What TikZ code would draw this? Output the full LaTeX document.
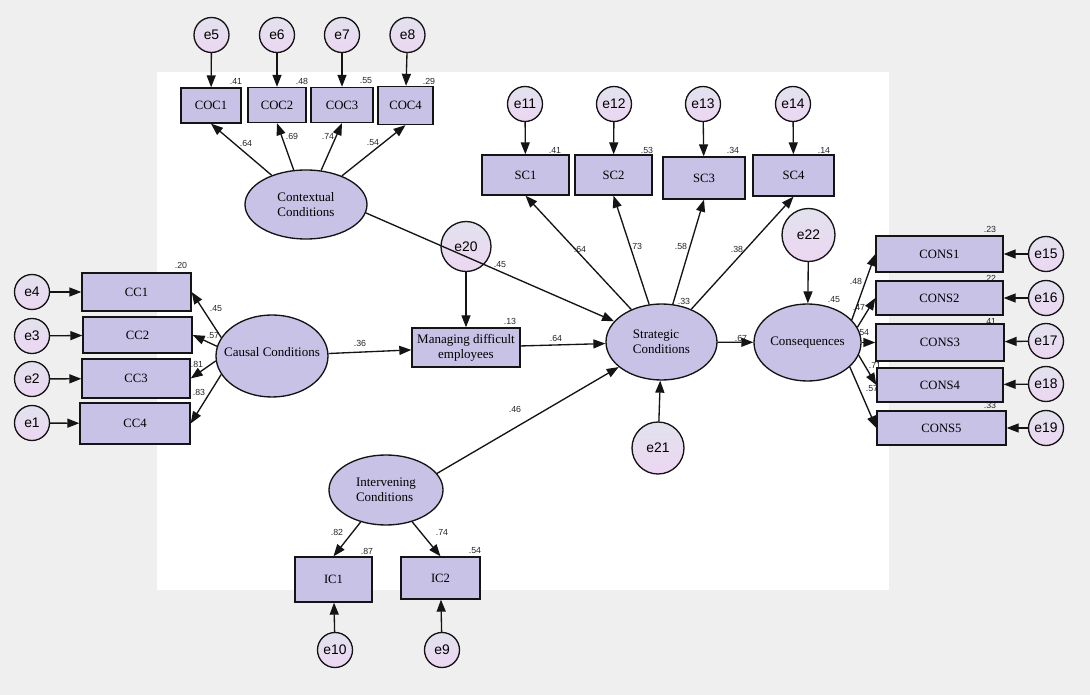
\documentclass[tikz,border=0pt]{standalone}
\usepackage{fontspec}
\setmainfont{Liberation Serif}
\newfontfamily\arialf{Liberation Sans}
\usetikzlibrary{shapes.geometric,arrows.meta}
\definecolor{bgray}{RGB}{239,239,239}
\definecolor{boxfill}{RGB}{199,194,230}
\definecolor{errtop}{RGB}{226,226,238}
\definecolor{errbot}{RGB}{236,214,242}
\definecolor{linec}{RGB}{20,20,20}
\tikzset{
  obs/.style={draw=linec, line width=1pt, fill=boxfill, rectangle, inner sep=0pt,
    align=center, font=\fontsize{9.5}{11.5}\selectfont},
  lat/.style={draw=linec, line width=1pt, fill=boxfill, ellipse, inner sep=0pt},
  lattext/.style={inner sep=0pt, align=left, font=\fontsize{9.75}{11}\selectfont},
  err/.style={draw=linec, line width=1pt, circle, top color=errtop, bottom color=errbot,
    inner sep=0pt, minimum size=26.25pt, font=\arialf\fontsize{10.4}{12}\selectfont},
  bigerr/.style={err, minimum size=38pt},
  arr/.style={draw=linec, line width=1pt, -{Triangle[length=9pt,width=6.75pt]}},
  num/.style={inner sep=0pt, font=\arialf\fontsize{6.6}{7}\selectfont, text=black!85}
}
\begin{document}
\begin{tikzpicture}[x=0.75pt,y=-0.75pt]
\fill[bgray] (0,0) rectangle (1090,695);
\useasboundingbox (0,0) rectangle (1090,695);
\fill[white] (157,72) rectangle (889,590);

% ---- numbers (drawn first so boxes may cover some) ----
\node[num] (r1) at (236,81) {.41};
\node[num] (r2) at (302,81) {.48};
\node[num] (r3) at (366,81) {.55};
\node[num] (r4) at (429,81) {.29};
\node[num] (l1) at (246,143) {.64};
\node[num] (l2) at (292,136) {.69};
\node[num] (l3) at (328,136) {.74};
\node[num] (l4) at (373,143) {.54};
\node[num] (rs1) at (555,150) {.41};
\node[num] (rs2) at (647,150) {.53};
\node[num] (rs3) at (733,150) {.34};
\node[num] (rs4) at (824,150) {.14};
\node[num] (ls1) at (580,249) {.64};
\node[num] (ls2) at (636,246) {.73};
\node[num] (ls3) at (681,246) {.58};
\node[num] (ls4) at (737,249) {.38};
\node[num] (rstrat) at (684,301) {.33};
\node[num] (lctx) at (500,265) {.45};
\node[num] (rman) at (510,321) {.13};
\node[num] (lman) at (556,338) {.64};
\node[num] (lcau) at (360,343) {.36};
\node[num] (lint) at (515,409) {.46};
\node[num] (lcon) at (741,338) {.67};
\node[num] (rcon) at (834,300) {.45};
\node[num] (rc1) at (990,229) {.23};
\node[num] (rc2) at (990,278) {.22};
\node[num] (rc3) at (990,321) {.41};
\node[num] (rc5) at (990,405) {.33};
\node[num] (lc1) at (856,281) {.48};
\node[num] (lc2) at (859,307) {.47};
\node[num] (lc3) at (863,333) {.54};
\node[num] (lc4) at (875,365) {.71};
\node[num] (lc5) at (872,389) {.57};
\node[num] (rcc1) at (181,265) {.20};
\node[num] (lcc1) at (216,309) {.45};
\node[num] (lcc2) at (213,336) {.57};
\node[num] (lcc3) at (197,364) {.81};
\node[num] (lcc4) at (199,392) {.83};
\node[num] (lic1) at (337,532) {.82};
\node[num] (ric1) at (367,551) {.87};
\node[num] (lic2) at (442,532) {.74};
\node[num] (ric2) at (475,551) {.54};

% ---- observed variables ----
\node[obs, minimum width=45pt, minimum height=26.25pt] (coc1) at (211,105.5) {COC1};
\node[obs, minimum width=43.5pt, minimum height=26.25pt] (coc2) at (277,105) {COC2};
\node[obs, minimum width=46.5pt, minimum height=26.25pt] (coc3) at (342,105) {COC3};
\node[obs, minimum width=41.25pt, minimum height=28.5pt] (coc4) at (405.5,105.5) {COC4};

\node[obs, minimum width=65.25pt, minimum height=30pt] (sc1) at (525.5,175) {SC1};
\node[obs, minimum width=57.75pt, minimum height=30pt] (sc2) at (613.5,175) {SC2};
\node[obs, minimum width=61.5pt, minimum height=31.5pt] (sc3) at (704,178) {SC3};
\node[obs, minimum width=60.75pt, minimum height=30.75pt] (sc4) at (793.5,175.5) {SC4};

\node[obs, minimum width=95.25pt, minimum height=27pt] (cons1) at (939.5,254) {CONS1};
\node[obs, minimum width=95.25pt, minimum height=25.5pt] (cons2) at (939.5,298) {CONS2};
\node[obs, minimum width=96pt, minimum height=27.75pt] (cons3) at (940,342.5) {CONS3};
\node[obs, minimum width=94.5pt, minimum height=25.5pt] (cons4) at (940,385) {CONS4};
\node[obs, minimum width=96.75pt, minimum height=25.5pt] (cons5) at (941.5,428) {CONS5};

\node[obs, minimum width=81.75pt, minimum height=28.5pt] (cc1) at (136.5,292) {CC1};
\node[obs, minimum width=81.75pt, minimum height=27pt] (cc2) at (137.5,335) {CC2};
\node[obs, minimum width=81pt, minimum height=29.25pt] (cc3) at (136,378.5) {CC3};
\node[obs, minimum width=82.5pt, minimum height=30.75pt] (cc4) at (135,423.5) {CC4};

\node[obs, minimum width=57.75pt, minimum height=33.75pt] (ic1) at (333.5,579.5) {IC1};
\node[obs, minimum width=59.25pt, minimum height=31.5pt] (ic2) at (440.5,578) {IC2};

\node[obs, minimum width=81pt, minimum height=29.25pt, font=\fontsize{9.75}{11.5}\selectfont] (man) at (466,347.5) {Managing difficult\\employees};

% ---- latent variables ----
\node[lat, minimum width=91.5pt, minimum height=51.75pt] (ctx) at (306,204.5) {};
\node[lattext] (ctxt) at (ctx) {Contextual\\Conditions};
\node[lat, minimum width=84pt, minimum height=61.5pt] (cau) at (272,356) {};
\node[lattext] (caut) at (272,352) {Causal Conditions};
\node[lat, minimum width=83.25pt, minimum height=57pt] (str) at (661.5,342) {};
\node[lattext] (strt) at (str) {Strategic\\Conditions};
\node[lat, minimum width=80.25pt, minimum height=57.75pt] (con) at (807.5,342.5) {};
\node[lattext] (cont) at (con) {Consequences};
\node[lat, minimum width=85.5pt, minimum height=52.5pt] (int) at (386,490) {};
\node[lattext] (intt) at (int) {Intervening\\Conditions};

% ---- error terms ----
\node[err] (e5) at (211.5,35) {e5};
\node[err] (e6) at (277,35) {e6};
\node[err] (e7) at (342,35) {e7};
\node[err] (e8) at (407.5,35) {e8};
\node[err] (e11) at (525,104) {e11};
\node[err] (e12) at (614,104) {e12};
\node[err] (e13) at (703,104) {e13};
\node[err] (e14) at (793,104) {e14};
\node[err] (e15) at (1046,254) {e15};
\node[err] (e16) at (1046,298) {e16};
\node[err] (e17) at (1046,341) {e17};
\node[err] (e18) at (1046,384) {e18};
\node[err] (e19) at (1046,428) {e19};
\node[err] (e4) at (32,292) {e4};
\node[err] (e3) at (32,336) {e3};
\node[err] (e2) at (32,379) {e2};
\node[err] (e1) at (32,423) {e1};
\node[err] (e10) at (335,650) {e10};
\node[err] (e9) at (442,650) {e9};
\node[bigerr, minimum size=37.5pt] (e20) at (466,246.5) {e20};
\node[bigerr, minimum size=39pt] (e21) at (658,448) {e21};
\node[bigerr, minimum size=39.75pt] (e22) at (808.5,235) {e22};

% ---- error arrows ----
\draw[arr] (e5) -- (coc1);
\draw[arr] (e6) -- (coc2);
\draw[arr] (e7) -- (coc3);
\draw[arr] (e8) -- (coc4);
\draw[arr] (e11) -- (sc1);
\draw[arr] (e12) -- (sc2);
\draw[arr] (e13) -- (sc3);
\draw[arr] (e14) -- (sc4);
\draw[arr] (e15) -- (cons1);
\draw[arr] (e16) -- (cons2);
\draw[arr] (e17) -- (cons3);
\draw[arr] (e18) -- (cons4);
\draw[arr] (e19) -- (cons5);
\draw[arr] (e4) -- (cc1);
\draw[arr] (e3) -- (cc2);
\draw[arr] (e2) -- (cc3);
\draw[arr] (e1) -- (cc4);
\draw[arr] (e10) -- (ic1);
\draw[arr] (e9) -- (ic2);
\draw[arr] (e20) -- (man);
\draw[arr] (e21) -- (str);
\draw[arr] (e22) -- (con);

% ---- loadings ----
\draw[arr] (ctx) -- (coc1.south);
\draw[arr] (ctx) -- (coc2.south);
\draw[arr] (ctx) -- (coc3.south);
\draw[arr] (ctx) -- (coc4.south);
\draw[arr] (str) -- (sc1.south);
\draw[arr] (str) -- (sc2.south);
\draw[arr] (str) -- (sc3.south);
\draw[arr] (str) -- (sc4.south);
\draw[arr] (con.27) -- (cons1.west);
\draw[arr] (con.17) -- (cons2.west);
\draw[arr] (con.0) -- (cons3.west);
\draw[arr] (con.-14) -- (cons4.west);
\draw[arr] (con.-30) -- (cons5.west);
\draw[arr] (cau.160) -- (cc1.east);
\draw[arr] (cau.170) -- (cc2.east);
\draw[arr] (cau.185) -- (cc3.east);
\draw[arr] (cau.200) -- (cc4.east);
\draw[arr] (int) -- (ic1.north);
\draw[arr] (int) -- (ic2.north);

% ---- structural paths ----
\draw[arr] (ctx.-8) -- (str);
\draw[arr] (cau) -- (man);
\draw[arr] (man) -- (str);
\draw[arr] (int.18) -- (str);
\draw[arr] (str) -- (con);
\end{tikzpicture}
\end{document}
